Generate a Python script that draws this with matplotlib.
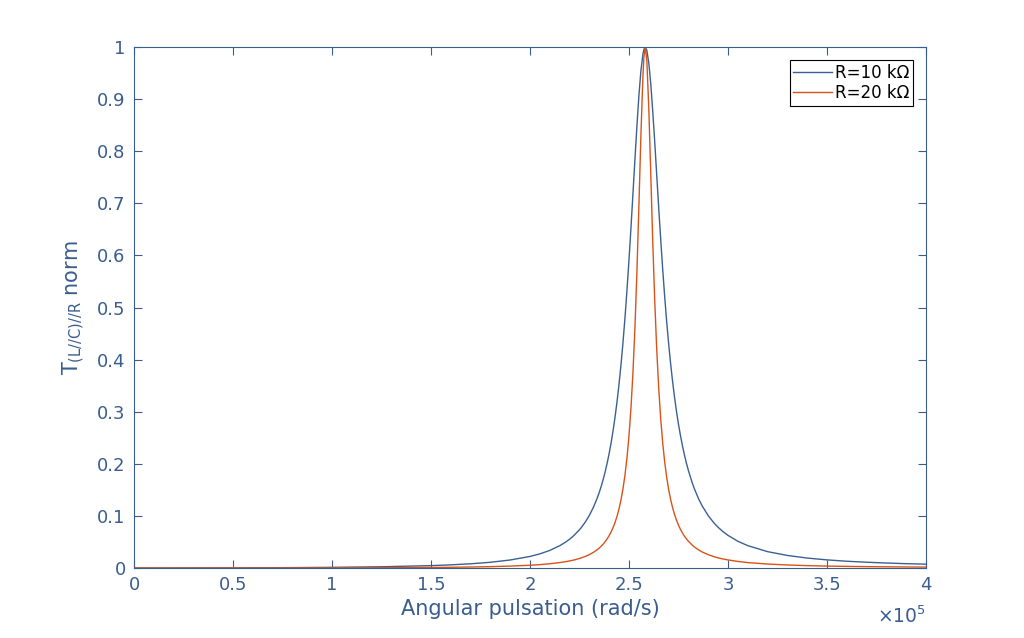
import numpy as np
import matplotlib
matplotlib.use('Agg')
from matplotlib import pyplot as plt

# angular pulsation, in units of 1e5 rad/s
w = [0.0, 0.25, 0.5, 0.75, 1.0, 1.25, 1.5, 1.6, 1.7, 1.8,
     1.9, 2.0, 2.05, 2.1, 2.15, 2.18, 2.2, 2.22, 2.25, 2.26,
     2.28, 2.3, 2.32, 2.34, 2.35, 2.36, 2.37, 2.38, 2.39, 2.4,
     2.41, 2.42, 2.43, 2.44, 2.45, 2.46, 2.47, 2.48, 2.49, 2.5,
     2.51, 2.52, 2.53, 2.54, 2.55, 2.56, 2.57, 2.575, 2.582, 2.59,
     2.6, 2.61, 2.62, 2.63, 2.64, 2.65, 2.66, 2.67, 2.68, 2.69,
     2.7, 2.71, 2.72, 2.73, 2.74, 2.75, 2.76, 2.77, 2.78, 2.79,
     2.8, 2.82, 2.83, 2.85, 2.87, 2.9, 2.93, 2.95, 2.97, 3.0,
     3.05, 3.1, 3.2, 3.3, 3.4, 3.5, 3.6, 3.7, 3.8, 3.9,
     4.0]

# R = 10 kOhm
t_10k = [0.0, 0.0001, 0.0003, 0.0006, 0.0013, 0.0024, 0.0046, 0.0061, 0.0081, 0.011,
         0.0154, 0.0222, 0.0272, 0.0338, 0.0428, 0.0498, 0.0553, 0.0618, 0.0735, 0.0782,
         0.0887, 0.1013, 0.1164, 0.1348, 0.1455, 0.1574, 0.1706, 0.1855, 0.202, 0.2205,
         0.2413, 0.2648, 0.2912, 0.321, 0.3546, 0.3924, 0.435, 0.4823, 0.535, 0.5923,
         0.654, 0.7193, 0.785, 0.849, 0.907, 0.954, 0.986, 0.9952, 1.0, 0.9937,
         0.969, 0.929, 0.876, 0.817, 0.754, 0.691, 0.631, 0.574, 0.5217, 0.474,
         0.4311, 0.3926, 0.3581, 0.3275, 0.3, 0.2756, 0.2539, 0.2344, 0.2168, 0.2011,
         0.187, 0.1627, 0.1522, 0.134, 0.1189, 0.1005, 0.0861, 0.0782, 0.0713, 0.0626,
         0.0513, 0.0429, 0.0314, 0.0241, 0.0191, 0.0156, 0.013, 0.0111, 0.0096, 0.0083,
         0.0074]

# R = 20 kOhm
t_20k = [0.0, 0.0, 0.0001, 0.0001, 0.0003, 0.0006, 0.0011, 0.0014, 0.0019, 0.0026,
         0.0037, 0.0053, 0.0065, 0.0082, 0.0104, 0.0122, 0.0136, 0.0152, 0.0183, 0.0196,
         0.0224, 0.0258, 0.03, 0.0353, 0.0385, 0.0421, 0.0461, 0.0508, 0.0562, 0.0624,
         0.0696, 0.0781, 0.0881, 0.1, 0.1144, 0.1318, 0.1532, 0.1797, 0.2128, 0.2546,
         0.3079, 0.376, 0.462, 0.5695, 0.696, 0.8295, 0.9425, 0.9797, 1.0, 0.974,
         0.881, 0.754, 0.625, 0.512, 0.419, 0.345, 0.2867, 0.2406, 0.2041, 0.1748,
         0.1512, 0.1319, 0.116, 0.1027, 0.0916, 0.0821, 0.0741, 0.0671, 0.0611, 0.0559,
         0.0513, 0.0437, 0.0405, 0.0351, 0.0307, 0.0256, 0.0217, 0.0195, 0.0177, 0.0155,
         0.0126, 0.0104, 0.0076, 0.0058, 0.0046, 0.0037, 0.0031, 0.0026, 0.0023, 0.002,
         0.0017]

labels = ['R=10 k\u03a9', 'R=20 k\u03a9']
xtick_vals = [0, 0.5, 1, 1.5, 2, 2.5, 3, 3.5, 4]
xtick_text = ['0', '0.5', '1', '1.5', '2', '2.5', '3', '3.5', '4']
ytick_vals = [0, 0.1, 0.2, 0.3, 0.4, 0.5, 0.6, 0.7, 0.8, 0.9, 1]
ytick_text = ['0', '0.1', '0.2', '0.3', '0.4', '0.5', '0.6', '0.7', '0.8', '0.9', '1']

axcol = '#3a5d8f'
blue = '#3b6094'
red = '#d95319'

plt.rcParams['font.family'] = ['DejaVu Sans']

fig = plt.figure(figsize=(10.24, 6.38), dpi=100)
ax = fig.add_axes([0.1309, 0.1097, 0.7734, 0.8166])

x = np.array(w) * 1e5
ax.plot(x, t_10k, color=blue, lw=1.0, label=labels[0])
ax.plot(x, t_20k, color=red, lw=1.0, label=labels[1])

ax.set_xlim(0, 4e5)
ax.set_ylim(0, 1)
ax.set_xticks(np.array(xtick_vals) * 1e5)
ax.set_xticklabels(xtick_text)
ax.set_yticks(ytick_vals)
ax.set_yticklabels(ytick_text)

ax.tick_params(direction='in', top=True, right=True, length=6, width=0.8,
               colors=axcol, labelsize=13, pad=6)
for s in ax.spines.values():
    s.set_color(axcol)
    s.set_linewidth(0.8)

# exponent like matlab, under the right end of the x axis
ax.text(1.0, -0.072, r'$\times$10$^{5}$', transform=ax.transAxes, ha='right', va='top',
        color=axcol, fontsize=13.5)

ax.set_xlabel('Angular pulsation (rad/s)', color=axcol, fontsize=15, labelpad=3)
ax.set_ylabel(r'T$_{\mathrm{(L//C)//R}}$ norm', color=axcol, fontsize=15, labelpad=7)

leg = ax.legend(loc='upper right', fancybox=False, edgecolor='black', framealpha=1,
                fontsize=12, handlelength=2.3, borderaxespad=0.8, borderpad=0.2,
                labelspacing=0.15, handletextpad=0.2)
leg.get_frame().set_linewidth(0.8)

fig.savefig('out.png', dpi=100)
